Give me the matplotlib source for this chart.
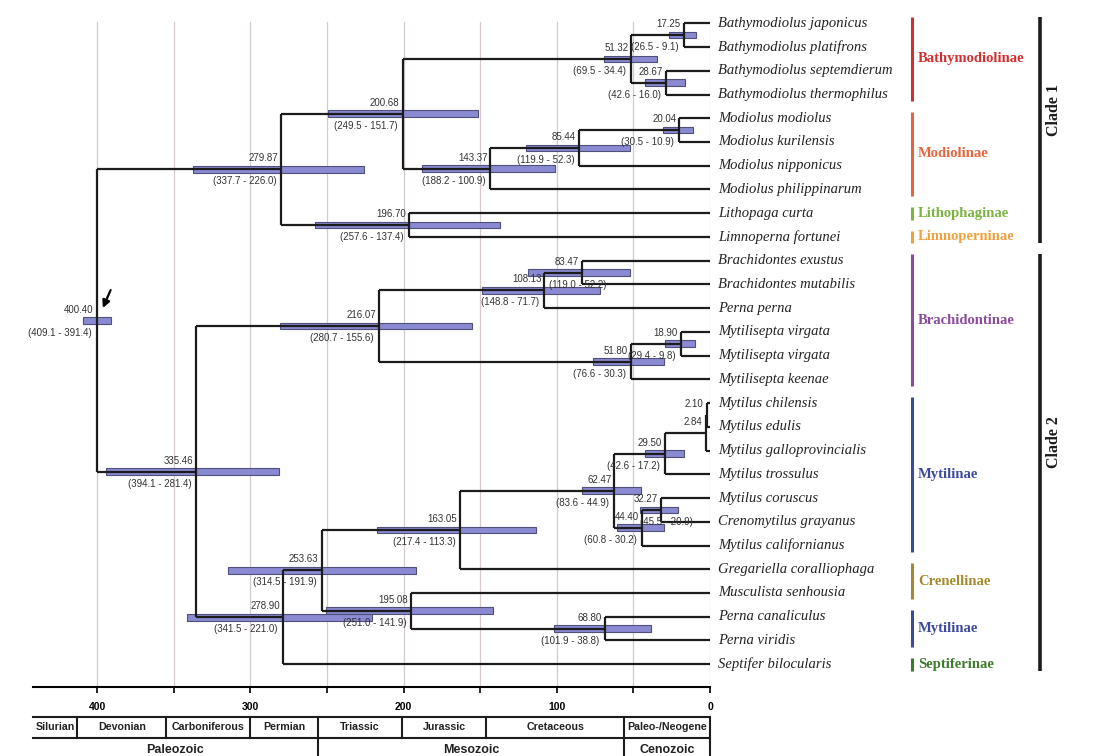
import numpy as np
import matplotlib.pyplot as plt
import matplotlib.transforms as mtrans
from matplotlib.ticker import MultipleLocator

plt.rcParams['font.family'] = 'Liberation Sans'

# tips, top to bottom
tips = ['Bathymodiolus japonicus', 'Bathymodiolus platifrons', 'Bathymodiolus septemdierum',
        'Bathymodiolus thermophilus', 'Modiolus modiolus', 'Modiolus kurilensis',
        'Modiolus nipponicus', 'Modiolus philippinarum', 'Lithopaga curta',
        'Limnoperna fortunei', 'Brachidontes exustus', 'Brachidontes mutabilis',
        'Perna perna', 'Mytilisepta virgata', 'Mytilisepta virgata', 'Mytilisepta keenae',
        'Mytilus chilensis', 'Mytilus edulis', 'Mytilus galloprovincialis', 'Mytilus trossulus',
        'Mytilus coruscus', 'Crenomytilus grayanus', 'Mytilus californianus',
        'Gregariella coralliophaga', 'Musculista senhousia', 'Perna canaliculus',
        'Perna viridis', 'Septifer bilocularis']

# internal nodes (children listed before parents); ints are tip indices
node_labels = ['17.25', '28.67', '51.32', '20.04', '85.44', '143.37', '200.68', '196.70',
               '279.87', '83.47', '108.13', '18.90', '51.80', '216.07', '2.10', '2.84',
               '29.50', '32.27', '44.40', '62.47', '163.05', '68.80', '195.08', '253.63',
               '278.90', '335.46', '400.40']
node_children = [(0, 1), (2, 3), ('17.25', '28.67'), (4, 5), ('20.04', 6), ('85.44', 7),
                 ('51.32', '143.37'), (8, 9), ('200.68', '196.70'), (10, 11), ('83.47', 12),
                 (13, 14), ('18.90', 15), ('108.13', '51.80'), (16, 17), ('2.10', 18),
                 ('2.84', 19), (20, 21), ('32.27', 22), ('29.50', '44.40'), ('62.47', 23),
                 (25, 26), (24, '68.80'), ('163.05', '195.08'), ('253.63', 27),
                 ('216.07', '278.90'), ('279.87', '335.46')]
hpd_old = [26.5, 42.6, 69.5, 30.5, 119.9, 188.2, 249.5, 257.6, 337.7, 119.0, 148.8, 29.4,
           76.6, 280.7, np.nan, np.nan, 42.6, 45.5, 60.8, 83.6, 217.4, 101.9, 251.0, 314.5,
           341.5, 394.1, 409.1]
hpd_young = [9.1, 16.0, 34.4, 10.9, 52.3, 100.9, 151.7, 137.4, 226.0, 52.2, 71.7, 9.8,
             30.3, 155.6, np.nan, np.nan, 17.2, 20.9, 30.2, 44.9, 113.3, 38.8, 141.9, 191.9,
             221.0, 281.4, 391.4]

subfamilies = ['Bathymodiolinae', 'Modiolinae', 'Lithophaginae', 'Limnoperninae',
               'Brachidontinae', 'Mytilinae', 'Crenellinae', 'Mytilinae', 'Septiferinae']
subfam_first = [0, 4, 8, 9, 10, 16, 23, 25, 27]
subfam_last = [3, 7, 8, 9, 15, 22, 24, 26, 27]
subfam_colors = ['#d42f2f', '#e8643c', '#7cb342', '#f2a03d', '#8c4a9e', '#3c4a9c',
                 '#a38a2e', '#3c4a9c', '#3d7a2c']

clades = ['Clade 1', 'Clade 2']
clade_first = [0, 10]
clade_last = [9, 27]

periods = ['Silurian', 'Devonian', 'Carboniferous', 'Permian', 'Triassic', 'Jurassic',
           'Cretaceous', 'Paleo-/Neogene']
period_bounds = [442, 413, 355, 300, 256, 201, 146, 56, 0]
eras = ['Paleozoic', 'Mesozoic', 'Cenozoic']
era_bounds = [442, 256, 56, 0]

# positions
ypos = {i: float(i) for i in range(len(tips))}
xpos = {i: 0.0 for i in range(len(tips))}
for lab, kids in zip(node_labels, node_children):
    ypos[lab] = np.mean([ypos[k] for k in kids])
    xpos[lab] = float(lab)

W, H = 1094, 756
fig = plt.figure(figsize=(W / 100, H / 100), dpi=100)
ax = fig.add_axes([33 / W, (H - 687) / H, 677 / W, 677 / H])
ax.set_xlim(442, 0)
ax.set_ylim(27.96, -0.56)

# grid lines every 50 Myr
for g in range(0, 401, 50):
    ax.axvline(g, ymin=0, ymax=0.982, color='#d6cbcb', lw=0.9, zorder=0)

# HPD bars
for lab, old, young in zip(node_labels, hpd_old, hpd_young):
    if np.isnan(old):
        continue
    ax.barh(ypos[lab], old - young, left=young, height=0.28, color='#8a8ad2',
            edgecolor='#50507c', lw=0.8, zorder=2)

# branches
lc = '#1c1c1c'
for lab, kids in zip(node_labels, node_children):
    x = xpos[lab]
    ax.plot([x, x], [ypos[kids[0]], ypos[kids[1]]], color=lc, lw=1.6, zorder=3,
            solid_capstyle='butt')
    for k in kids:
        ax.plot([x, xpos[k]], [ypos[k], ypos[k]], color=lc, lw=1.6, zorder=3,
                solid_capstyle='butt')

# node labels
shift = {'83.47': 29, '32.27': 37}
for lab, old, young in zip(node_labels, hpd_old, hpd_young):
    x, y = xpos[lab], ypos[lab]
    ax.annotate(lab, (x, y), xytext=(-3, 11), textcoords='offset pixels', ha='right',
                va='center', fontsize=7, color='#333333', zorder=4)
    if not np.isnan(old):
        ax.annotate(f'({old:.1f} - {young:.1f})', (x, y),
                    xytext=(-5 + shift.get(lab, 0), -12), textcoords='offset pixels',
                    ha='right', va='center', fontsize=7, color='#333333', zorder=4)

# arrow at root
root = node_labels[-1]
head = mtrans.offset_copy(ax.transData, fig=fig, x=5, y=10, units='dots')
ax.annotate('', xy=(xpos[root], ypos[root]), xycoords=head, xytext=(10, 23),
            textcoords='offset pixels',
            arrowprops=dict(arrowstyle='-|>', color='black', lw=1.6, mutation_scale=11))

# time axis
for s in ['left', 'right', 'top']:
    ax.spines[s].set_visible(False)
ax.spines['bottom'].set_linewidth(1.5)
ax.set_yticks([])
ax.xaxis.set_major_locator(MultipleLocator(100))
ax.xaxis.set_minor_locator(MultipleLocator(50))
ax.tick_params(axis='x', which='both', direction='out', length=4, width=1.2, pad=7)
for t in ax.get_xticklabels():
    t.set_fontweight('bold')
    t.set_fontsize(7.5)

# right panel: tip names, subfamilies, clades
axr = fig.add_axes([710 / W, (H - 687) / H, 384 / W, 677 / H], sharey=ax)
axr.set_xlim(0, 384)
axr.axis('off')
for i, name in enumerate(tips):
    axr.text(8, i, name, style='italic', family='Liberation Serif', fontsize=10.5,
             va='center', color='#222222')
for name, a, b, c in zip(subfamilies, subfam_first, subfam_last, subfam_colors):
    axr.plot([202, 202], [a - 0.27, b + 0.27], color=c, lw=2.2, solid_capstyle='butt')
    axr.text(208, (a + b) / 2, name, color=c, family='Liberation Serif', weight='bold',
             fontsize=10.5, va='center')
for name, a, b in zip(clades, clade_first, clade_last):
    axr.plot([330, 330], [a - 0.27, b + 0.27], color='#1c1c1c', lw=2.6, solid_capstyle='butt')
    axr.text(344, (a + b) / 2 - 0.85, name, rotation=90, family='Liberation Serif',
             weight='bold', fontsize=11.5, va='center', ha='center', color='#1c1c1c')

# geological time table
axb = fig.add_axes([33 / W, 0, 677 / W, 39 / H])
axb.set_xlim(442, 0)
axb.set_ylim(39, 0)
axb.axis('off')
tk = dict(color='#1c1c1c', lw=1.5, clip_on=False)
axb.plot([442, 0], [0, 0], **tk)
axb.plot([442, 0], [21, 21], **tk)
for bnd in period_bounds[1:-1]:
    axb.plot([bnd, bnd], [0, 21], **tk)
for bnd in era_bounds[1:-1]:
    axb.plot([bnd, bnd], [21, 40], **tk)
axb.plot([0, 0], [0, 40], **tk)
for name, a, b in zip(periods, period_bounds[:-1], period_bounds[1:]):
    axb.text((a + b) / 2, 10.5, name, ha='center', va='center', fontsize=7.7,
             weight='bold', color='#222222')
for name, a, b in zip(eras, era_bounds[:-1], era_bounds[1:]):
    axb.text((a + b) / 2, 33, name, ha='center', va='center', fontsize=9,
             weight='bold', color='#222222', clip_on=False)

fig.savefig('out.png', dpi=100, facecolor='white')
